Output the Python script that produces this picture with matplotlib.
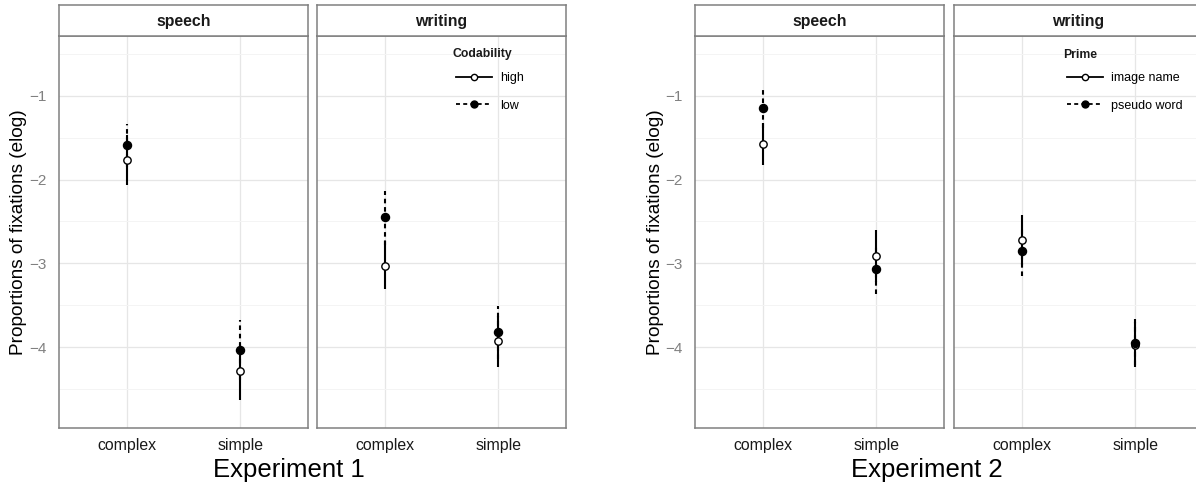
import matplotlib
matplotlib.use("Agg")
import matplotlib.pyplot as plt
from matplotlib.lines import Line2D
from matplotlib.ticker import MultipleLocator

plt.rcParams["font.family"] = ["Liberation Sans", "DejaVu Sans"]

# categories
conditions = ["complex", "simple"]
modalities = ["speech", "writing"]

# Experiment 1 (Codability): rows = speech, writing; cols = complex, simple
exp1_high_mean = [[-1.77, -4.29], [-3.03, -3.93]]
exp1_high_lo = [[-2.06, -4.63], [-3.31, -4.24]]
exp1_high_hi = [[-1.47, -3.96], [-2.73, -3.63]]
exp1_low_mean = [[-1.59, -4.04], [-2.45, -3.82]]
exp1_low_lo = [[-1.85, -4.40], [-2.78, -4.14]]
exp1_low_hi = [[-1.33, -3.68], [-2.13, -3.51]]

# Experiment 2 (Prime)
exp2_img_mean = [[-1.57, -2.91], [-2.72, -3.98]]
exp2_img_lo = [[-1.82, -3.22], [-3.02, -4.24]]
exp2_img_hi = [[-1.32, -2.60], [-2.42, -3.70]]
exp2_pse_mean = [[-1.14, -3.07], [-2.85, -3.95]]
exp2_pse_lo = [[-1.38, -3.37], [-3.15, -4.22]]
exp2_pse_hi = [[-0.90, -2.77], [-2.55, -3.66]]

W, H = 1196, 486
fig = plt.figure(figsize=(W / 100, H / 100), dpi=100)

BORDER = "#808080"
DASH = (0, (2.2, 1.8))


def px_axes(x0, x1, y0, y1):
    return fig.add_axes([x0 / W, 1 - y1 / H, (x1 - x0) / W, (y1 - y0) / H])


def draw_series(ax, row, mean, lo, hi, style, filled):
    xs = range(len(conditions))
    for x in xs:
        ax.plot([x, x], [lo[row][x], hi[row][x]], color="black",
                linestyle=style, linewidth=1.5, solid_capstyle="butt",
                dash_capstyle="butt", zorder=3)
    ax.plot(list(xs), mean[row], linestyle="none", marker="o",
            markersize=5.8 if filled else 5.3,
            markerfacecolor="black" if filled else "white",
            markeredgecolor="black", markeredgewidth=1.0, zorder=4)


def draw_experiment(x_lefts, series, legend_title, legend_x, ylabel_x, title, title_x):
    for i, mod in enumerate(modalities):
        x0 = x_lefts[i]
        ax = px_axes(x0, x0 + 249, 36, 428)
        ax.set_xlim(-0.6, 1.6)
        ax.set_ylim(-4.968, -0.283)
        ax.yaxis.set_major_locator(MultipleLocator(1))
        ax.yaxis.set_minor_locator(MultipleLocator(0.5))
        ax.set_xticks(range(len(conditions)))
        ax.set_xticklabels(conditions, fontsize=11.4, color="#1a1a1a")
        ax.grid(True, which="major", color="#E6E6E6", linewidth=0.9, zorder=0)
        ax.grid(True, which="minor", axis="y", color="#F4F4F4", linewidth=0.7, zorder=0)
        ax.set_axisbelow(True)
        ax.tick_params(which="both", length=0)
        ax.tick_params(axis="x", pad=7)
        ax.tick_params(axis="y", pad=9, labelsize=11, labelcolor="#808080")
        for s in ax.spines.values():
            s.set_color(BORDER)
            s.set_linewidth(1.1)
        if i == 0:
            ax.set_ylabel("Proportions of fixations (elog)", fontsize=13.7)
            ax.yaxis.set_label_coords((ylabel_x + 9 - x0) / 249, 0.5)
        else:
            ax.set_yticklabels([])

        for mean, lo, hi, style, filled, _ in series:
            draw_series(ax, i, mean, lo, hi, style, filled)

        # strip
        st = px_axes(x0, x0 + 249, 5, 36)
        st.set_xticks([])
        st.set_yticks([])
        for s in st.spines.values():
            s.set_color(BORDER)
            s.set_linewidth(1.1)
        st.text(0.5, 0.48, mod, ha="center", va="center", fontsize=11.4,
                fontweight="bold", color="#1a1a1a", transform=st.transAxes)

        if i == 1:
            handles = []
            labels = []
            for mean, lo, hi, style, filled, lab in series:
                handles.append(Line2D([], [], color="black", linestyle=style, linewidth=1.3,
                                      marker="o", markersize=5.0 if filled else 4.5,
                                      markerfacecolor="black" if filled else "white",
                                      markeredgecolor="black", markeredgewidth=1.0))
                labels.append(lab)
            ax.legend(handles, labels, loc="upper left",
                      bbox_to_anchor=((legend_x + 4 - x0) / 249, (428 - 72) / 392),
                      frameon=False, fontsize=9, borderpad=0, borderaxespad=0,
                      handlelength=2.9, handletextpad=0.6, labelspacing=1.25)
            fig.text(legend_x / W, 1 - 54.5 / H, legend_title, ha="left", va="center",
                     fontsize=8.8, fontweight="bold", color="#1a1a1a")

    fig.text(title_x / W, 1 - 470 / H, title, ha="center", va="center", fontsize=18.5)


draw_experiment(
    [59, 317],
    [(exp1_high_mean, exp1_high_lo, exp1_high_hi, "-", False, "high"),
     (exp1_low_mean, exp1_low_lo, exp1_low_hi, DASH, True, "low")],
    "Codability", 452, 18, "Experiment 1", 289)

draw_experiment(
    [695, 954],
    [(exp2_img_mean, exp2_img_lo, exp2_img_hi, "-", False, "image name"),
     (exp2_pse_mean, exp2_pse_lo, exp2_pse_hi, DASH, True, "pseudo word")],
    "Prime", 1063, 655, "Experiment 2", 927)

fig.savefig("out.png", dpi=100)
